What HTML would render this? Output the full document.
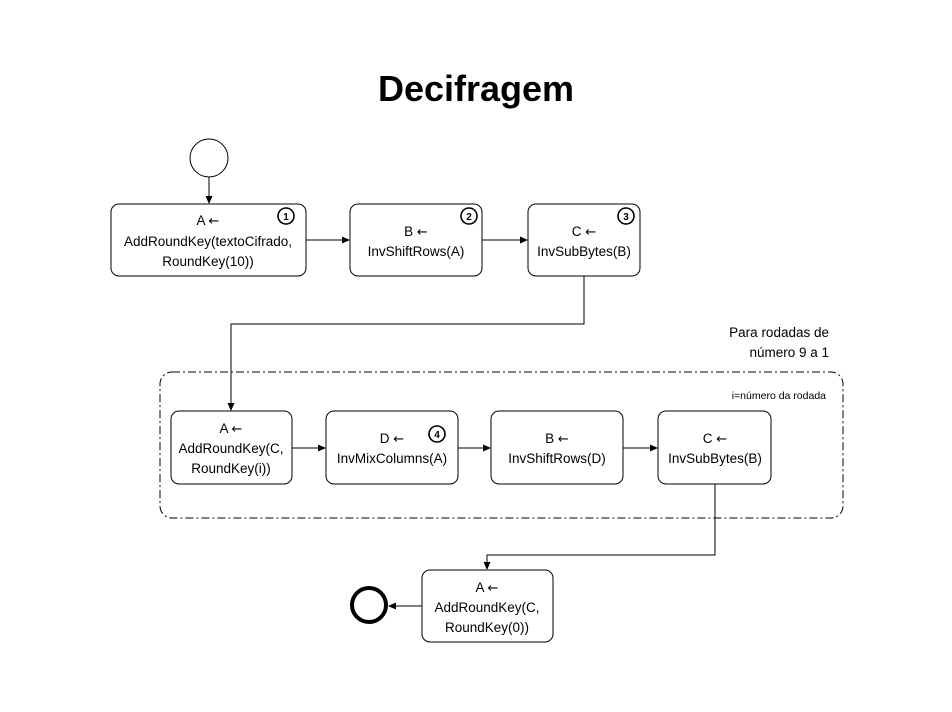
<!DOCTYPE html>
<html><head><meta charset="utf-8"><style>
html,body{margin:0;padding:0;background:#fff}
svg{display:block;font-family:"Liberation Sans",sans-serif}
.ar{font-family:"DejaVu Sans",sans-serif;font-size:13px}
</style></head><body>
<svg width="952" height="712" viewBox="0 0 952 712" xmlns="http://www.w3.org/2000/svg">
<defs><marker id="a" markerWidth="8" markerHeight="8" refX="7" refY="4" orient="auto" markerUnits="userSpaceOnUse"><path d="M0,0.5 L8,4 L0,7.5 z" fill="#000"/></marker></defs>
<text x="476" y="101" text-anchor="middle" font-size="36" font-weight="bold">Decifragem</text>
<g fill="none" stroke="#000" stroke-width="1">
<circle cx="209" cy="158" r="19"/>
<line x1="209" y1="177" x2="209" y2="203" marker-end="url(#a)"/>
<rect x="111" y="204" width="195" height="72" rx="8"/>
<rect x="350" y="204" width="132" height="72" rx="8"/>
<rect x="528" y="204" width="112" height="72" rx="8"/>
<line x1="306" y1="240" x2="349" y2="240" marker-end="url(#a)"/>
<line x1="482" y1="240" x2="527" y2="240" marker-end="url(#a)"/>
<polyline points="584,276 584,324 231,324 231,410" marker-end="url(#a)"/>
<rect x="160" y="372" width="683" height="146" rx="12" stroke-dasharray="8,3,2,3"/>
<rect x="171" y="411" width="121" height="73" rx="8"/>
<rect x="326" y="411" width="132" height="73" rx="8"/>
<rect x="491" y="411" width="132" height="73" rx="8"/>
<rect x="658" y="411" width="113" height="73" rx="8"/>
<line x1="292" y1="448" x2="325" y2="448" marker-end="url(#a)"/>
<line x1="458" y1="448" x2="490" y2="448" marker-end="url(#a)"/>
<line x1="623" y1="448" x2="657" y2="448" marker-end="url(#a)"/>
<polyline points="715,484 715,555 487,555 487,569" marker-end="url(#a)"/>
<rect x="422" y="570" width="131" height="72" rx="8"/>
<line x1="422" y1="606" x2="389" y2="606" marker-end="url(#a)"/>
<circle cx="369" cy="605" r="17" stroke-width="4"/>
<g stroke-width="1.6"><circle cx="286" cy="216" r="8"/><circle cx="469" cy="216" r="8"/><circle cx="626" cy="216" r="8"/><circle cx="437" cy="434" r="8"/></g>
</g>
<g font-size="10" font-weight="bold" text-anchor="middle">
<text x="286" y="220">1</text><text x="469" y="220">2</text><text x="626" y="220">3</text><text x="437" y="438">4</text>
</g>
<g font-size="13.5" text-anchor="middle">
<text x="208" y="225">A <tspan class="ar">←</tspan></text><text x="208" y="246">AddRoundKey(textoCifrado,</text><text x="208" y="266">RoundKey(10))</text>
<text x="416" y="236">B <tspan class="ar">←</tspan></text><text x="416" y="256">InvShiftRows(A)</text>
<text x="584" y="236">C <tspan class="ar">←</tspan></text><text x="584" y="256">InvSubBytes(B)</text>
<text x="231" y="433">A <tspan class="ar">←</tspan></text><text x="231" y="453">AddRoundKey(C,</text><text x="231" y="473">RoundKey(i))</text>
<text x="392" y="443">D <tspan class="ar">←</tspan></text><text x="392" y="463">InvMixColumns(A)</text>
<text x="557" y="443">B <tspan class="ar">←</tspan></text><text x="557" y="463">InvShiftRows(D)</text>
<text x="715" y="443">C <tspan class="ar">←</tspan></text><text x="715" y="463">InvSubBytes(B)</text>
<text x="487" y="592">A <tspan class="ar">←</tspan></text><text x="487" y="612">AddRoundKey(C,</text><text x="487" y="632">RoundKey(0))</text>
</g>
<g text-anchor="end">
<text x="829" y="337" font-size="13.5">Para rodadas de</text>
<text x="829" y="357" font-size="13.5">número 9 a 1</text>
<text x="826" y="399" font-size="10.5">i=número da rodada</text>
</g>
</svg>
</body></html>
